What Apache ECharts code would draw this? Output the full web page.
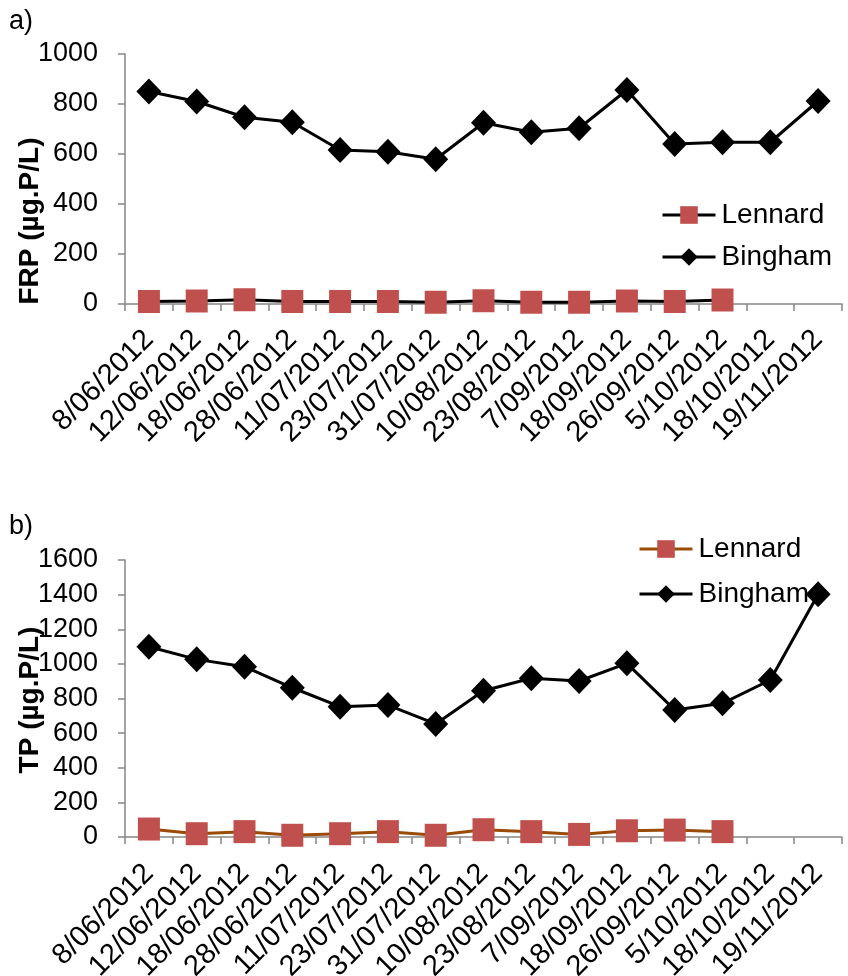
<!DOCTYPE html>
<html>
<head>
<meta charset="utf-8">
<script src="https://cdn.jsdelivr.net/npm/echarts@6/dist/echarts.min.js"></script>
<style>
html,body{margin:0;padding:0;background:#fff;}
#chart{width:848px;height:976px;}
</style>
</head>
<body>
<div id="chart"></div>
<script>
const categories = ['8/06/2012','12/06/2012','18/06/2012','28/06/2012','11/07/2012','23/07/2012','31/07/2012','10/08/2012','23/08/2012','7/09/2012','18/09/2012','26/09/2012','5/10/2012','18/10/2012','19/11/2012'];
const frpLennard = [10,12,17,10,10,10,7,13,7,7,12,10,16,null,null];
const frpBingham = [850,810,747,727,616,609,579,725,687,703,856,640,647,647,812];
const tpLennard = [46,19,31,10,19,31,10,42,31,15,36,40,31,null,null];
const tpBingham = [1099,1026,984,862,753,762,653,845,917,901,1003,734,772,907,1402];
const frpTicks = [0,1000,200];
const tpTicks = [0,1600,200];

const FONT = "'Liberation Sans', Arial, sans-serif";
const RED = '#c0504d';
const BROWN = '#9a4b05';

const chart = echarts.init(document.getElementById('chart'));

function xAxis(grid, m){
  return {
    gridIndex: grid, type:'category', data: categories, boundaryGap:true,
    axisLine:{lineStyle:{color:'#868686',width:1.5}},
    axisTick:{show:true,length:7,lineStyle:{color:'#868686',width:1.5}},
    axisLabel:{rotate:45,color:'#000',fontFamily:FONT,fontSize:29,margin:m,interval:0,padding:[20,0,0,0]}
  };
}
function yAxis(grid, t){
  return {
    gridIndex: grid, type:'value', min:t[0], max:t[1], interval:t[2],
    axisLine:{show:true,lineStyle:{color:'#868686',width:1.5}},
    axisTick:{show:true,length:7,lineStyle:{color:'#868686',width:1.5}},
    splitLine:{show:false},
    axisLabel:{color:'#000',fontFamily:FONT,fontSize:27,margin:27,formatter:function(v){return String(v);}}
  };
}

const legendText = {fontFamily:FONT,fontSize:28,color:'#000',padding:[0,0,0,1]};

const option = {
  animation:false,
  backgroundColor:'#fff',
  grid:[
    {left:125, top:54, width:717, height:250, containLabel:false, outerBoundsMode:'none'},
    {left:125, top:560, width:717, height:277, containLabel:false, outerBoundsMode:'none'}
  ],
  xAxis:[xAxis(0, 31), xAxis(1, 32)],
  yAxis:[yAxis(0, frpTicks), yAxis(1, tpTicks)],
  legend:[
    {
      left:661, top:201, orient:'vertical', padding:0, itemGap:14, itemWidth:53, itemHeight:22,
      textStyle:legendText,
      data:[
        {name:'Lennard', itemStyle:{color:RED}, lineStyle:{color:'#000',width:3}},
        {name:'Bingham', itemStyle:{color:'#000'}, lineStyle:{color:'#000',width:3}}
      ]
    },
    {
      left:638, top:535, orient:'vertical', padding:0, itemGap:17, itemWidth:53, itemHeight:22,
      textStyle:legendText,
      data:[
        {name:'Lennard', itemStyle:{color:RED}, lineStyle:{color:BROWN,width:3}},
        {name:'Bingham', itemStyle:{color:'#000'}, lineStyle:{color:'#000',width:3}}
      ]
    }
  ],
  graphic:[
    {type:'text', left:9, top:8, style:{text:'a)', fontFamily:FONT, fontSize:27, fill:'#000'}},
    {type:'text', left:9, top:513, style:{text:'b)', fontFamily:FONT, fontSize:27, fill:'#000'}},
    {type:'text', x:30, y:221, rotation:Math.PI/2, style:{text:'FRP (µg.P/L)', fontFamily:FONT, fontWeight:'bold', fontSize:28, fill:'#000', align:'center', verticalAlign:'middle'}},
    {type:'text', x:30, y:700, rotation:Math.PI/2, style:{text:'TP (µg.P/L)', fontFamily:FONT, fontWeight:'bold', fontSize:28, fill:'#000', align:'center', verticalAlign:'middle'}}
  ],
  series:[
    {name:'Bingham', type:'line', xAxisIndex:0, yAxisIndex:0, data:frpBingham, symbol:'diamond', symbolSize:[25,26], lineStyle:{color:'#000',width:3}, itemStyle:{color:'#000'}, z:2},
    {name:'Lennard', type:'line', xAxisIndex:0, yAxisIndex:0, data:frpLennard, symbol:'rect', symbolSize:[22,23], lineStyle:{color:'#000',width:3}, itemStyle:{color:RED}, z:3},
    {name:'Bingham', type:'line', xAxisIndex:1, yAxisIndex:1, data:tpBingham, symbol:'diamond', symbolSize:[25,26], lineStyle:{color:'#000',width:3}, itemStyle:{color:'#000'}, z:2},
    {name:'Lennard', type:'line', xAxisIndex:1, yAxisIndex:1, data:tpLennard, symbol:'rect', symbolSize:[22,23], lineStyle:{color:BROWN,width:3}, itemStyle:{color:RED}, z:3}
  ]
};
chart.setOption(option);
</script>
</body>
</html>
